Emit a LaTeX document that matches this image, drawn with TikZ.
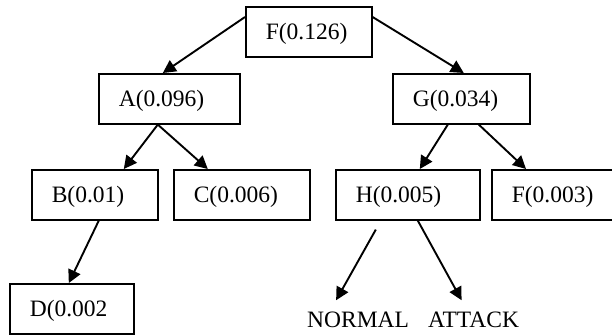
\documentclass[tikz,border=0pt]{standalone}
\usepackage{fontspec}
\setmainfont{Liberation Serif}
\usetikzlibrary{arrows.meta}
\tikzset{
  box/.style={draw, line width=1.6pt, anchor=north west, inner xsep=20pt, inner ysep=0pt,
    minimum height=50pt, text height=18pt, text depth=2pt, align=left},
  lbl/.style={anchor=base west, inner sep=0pt},
  conn/.style={line width=1.9pt, -{Triangle[length=13pt,width=13pt]}}
}
\begin{document}
\begin{tikzpicture}[x=1pt,y=-1pt,font=\fontsize{23.5}{28}\selectfont]
\useasboundingbox (0,0) rectangle (612,335);
\node[box, text width=86pt] (F) at (245,6) {F(0.126)};
\node[box, text width=101pt] (A) at (98,73) {A(0.096)};
\node[box, text width=97pt] (G) at (392,73) {G(0.034)};
\node[box, text width=86pt] (B) at (31,169) {B(0.01)};
\node[box, text width=96pt] (C) at (173,169) {C(0.006)};
\node[box, text width=104pt] (H) at (335,169) {H(0.005)};
\node[box, text width=84pt] (F2) at (491,169) {F(0.003)};
\node[box, text width=84pt] (D) at (9,283) {D(0.002};
\node[lbl] (N) at (307,327) {NORMAL};
\node[lbl] (T) at (428,327) {ATTACK};
\coordinate (hs) at ([xshift=-32pt,yshift=-9pt]H.south);
\draw[conn] ([yshift=-11pt]F.north west) -- ([xshift=-6.5pt]A.north);
\draw[conn] ([yshift=-11pt]F.north east) -- ([xshift=2.5pt]G.north);
\draw[conn] ([xshift=-11.5pt]A.south) -- ([xshift=29pt]B.north);
\draw[conn] ([xshift=-11.5pt]A.south) -- ([xshift=-34pt]C.north);
\draw[conn] ([xshift=-13.5pt]G.south) -- ([xshift=12pt]H.north);
\draw[conn] ([xshift=17.5pt]G.south) -- ([xshift=35pt]F2.north west);
\draw[conn] ([xshift=4pt]B.south) -- ([xshift=-3pt]D.north);
\draw[conn] (hs) -- ([xshift=-22pt,yshift=11pt]N.north);
\draw[conn] ([xshift=10pt]H.south) -- ([xshift=-12pt,yshift=11pt]T.north);
\end{tikzpicture}
\end{document}
